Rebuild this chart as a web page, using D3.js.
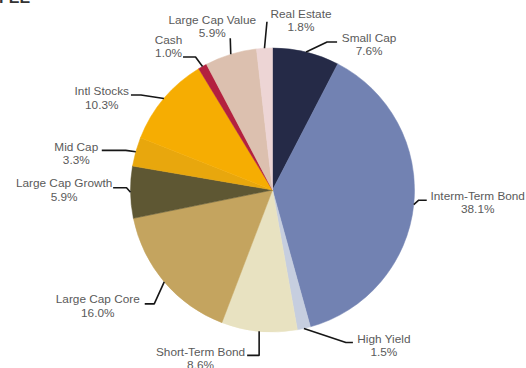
<!DOCTYPE html>
<html>
<head>
<meta charset="utf-8">
<script src="https://cdn.jsdelivr.net/npm/d3@7"></script>
<style>
  html, body { margin: 0; padding: 0; background: #fff; }
  svg { display: block; }
  text { font-family: "Liberation Sans", Arial, sans-serif; }
</style>
</head>
<body>
<svg id="chart" width="526" height="368"></svg>
<script>
// Asset allocation, clockwise from 12 o'clock
const categories = ["Small Cap", "Interm-Term Bond", "High Yield", "Short-Term Bond",
  "Large Cap Core", "Large Cap Growth", "Mid Cap", "Intl Stocks", "Cash",
  "Large Cap Value", "Real Estate"];
const shares = [7.6, 38.1, 1.5, 8.6, 16.0, 5.9, 3.3, 10.3, 1.0, 5.9, 1.8];
const sliceColors = ["#252a47", "#7282b2", "#c6cedf", "#e8e2c1", "#c4a45f",
  "#5e5733", "#e8a70d", "#f6ad02", "#b3213f", "#dcc0af", "#edd5d5"];

// Leader layout per slice: elbow offset from the rim, horizontal tail,
// and where the two-line label sits relative to the end of the leader.
const leaderLayout = [
  { knee: [21, -10],   tail: 10,  label: [32, -4.3] },
  { knee: [5, -4.5],   tail: 8,   label: [51, -4.7] },
  { knee: [42, 14],    tail: 7,   label: [31, -4] },
  { knee: [0, 24],     tail: -12, label: [-46.6, -4] },
  { knee: [-10, 22],   tail: -9.5, label: [-47, -5] },
  { knee: [-4, -4.5],  tail: -13.4, label: [-49, -4.8] },
  { knee: [-10, -1.3], tail: -24, label: [-25.5, -4] },
  { knee: [-23, -3.5], tail: -10, label: [-29.2, -3.7] },
  { knee: [-7, -9.5],  tail: -12.5, label: [-14.5, -17.6] },
  { knee: [-0.5, -16], tail: 0,   label: [-18, -18.5] },
  { knee: [2.5, -26.5], tail: 0,  label: [34, -8.4] }
];

const svg = d3.select("#chart");
const cx = 272.5, cy = 190, radius = 142;
const lineGap = 13.5;

// Heading running off the top edge of the page
svg.append("text")
  .attr("x", -1).attr("y", 2.5)
  .attr("font-size", 16).attr("font-weight", "bold")
  .attr("fill", "#333")
  .text("FEE");

const data = categories.map((name, i) => ({ name, value: shares[i], color: sliceColors[i], layout: leaderLayout[i] }));

const pie = d3.pie().sort(null).value(d => d.value);
const arcs = pie(data);

const arc = d3.arc().innerRadius(0).outerRadius(radius);
const rim = d3.arc().innerRadius(radius).outerRadius(radius);

const g = svg.append("g").attr("transform", `translate(${cx},${cy})`);

g.selectAll("path.slice")
  .data(arcs)
  .join("path")
  .attr("class", "slice")
  .attr("d", arc)
  .attr("fill", d => d.data.color)
  .attr("stroke", d => d.data.color)
  .attr("stroke-width", 0.5);

const fmt = d3.format(".1f");

arcs.forEach(d => {
  const L = d.data.layout;
  const p = rim.centroid(d);
  const k = [p[0] + L.knee[0], p[1] + L.knee[1]];
  const e = [k[0] + L.tail, k[1]];

  g.append("polyline")
    .attr("points", [p, k, e].map(q => q.join(",")).join(" "))
    .attr("fill", "none")
    .attr("stroke", "#161616")
    .attr("stroke-width", 1.6)
    .attr("stroke-linejoin", "round");

  const lx = e[0] + L.label[0];
  const ly = e[1] + L.label[1] + 4.2;
  const t = g.append("text")
    .attr("text-anchor", "middle")
    .attr("font-size", 11.8)
    .attr("fill", "#5a5a5a");
  t.append("tspan").attr("x", lx).attr("y", ly).text(d.data.name);
  t.append("tspan").attr("x", lx).attr("y", ly + lineGap).text(fmt(d.data.value) + "%");
});
</script>
</body>
</html>
